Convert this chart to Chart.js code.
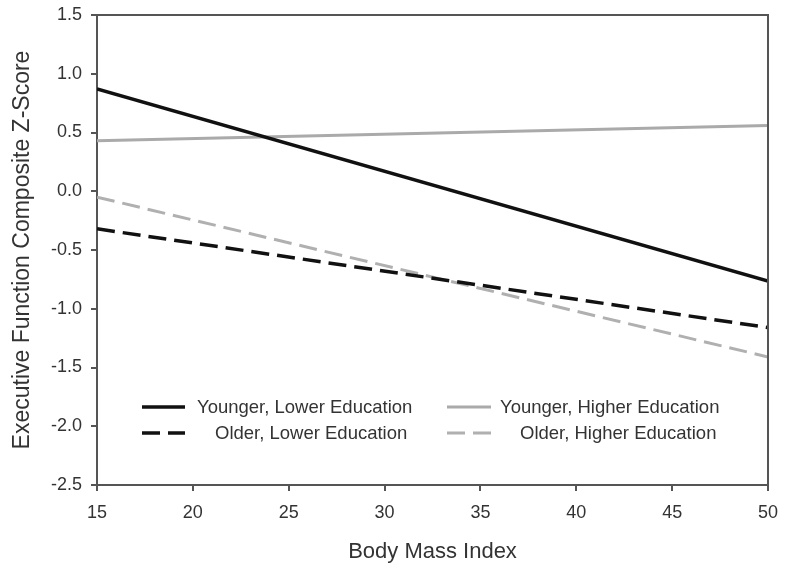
<!DOCTYPE html>
<html>
<head>
<meta charset="utf-8">
<script src="https://cdn.jsdelivr.net/npm/chart.js@4"></script>
<style>
  html, body { margin: 0; padding: 0; background: #fff; }
  #wrap { width: 785px; height: 568px; }
</style>
</head>
<body>
<div id="wrap"><canvas id="c" width="785" height="568"></canvas></div>
<script>
const bmi = [15, 50];
const youngerLower = [0.87, -0.765];
const youngerHigher = [0.43, 0.56];
const olderLower = [-0.32, -1.16];
const olderHigher = [-0.05, -1.41];
const seriesNames = ["Younger, Lower Education", "Younger, Higher Education", "Older, Lower Education", "Older, Higher Education"];
const xTitle = "Body Mass Index";
const yTitle = "Executive Function Composite Z-Score";

const FONT = "'Liberation Sans', Arial, sans-serif";
const TXT = "#333333";
const AXIS = "#555555";

function pts(vals) { return bmi.map((x, i) => ({x: x, y: vals[i]})); }

const styles = [
  {color: "#111111", dash: [], width: 3.5},
  {color: "#aaaaaa", dash: [], width: 3},
  {color: "#111111", dash: [18, 8], width: 3.5},
  {color: "#b0b0b0", dash: [18, 8], width: 3}
];
const seriesVals = [youngerLower, youngerHigher, olderLower, olderHigher];

const datasets = seriesVals.map((v, i) => ({
  label: seriesNames[i],
  data: pts(v),
  borderColor: styles[i].color,
  borderWidth: styles[i].width,
  borderDash: styles[i].dash,
  pointRadius: 0,
  fill: false,
  tension: 0
}));

const legendPlugin = {
  id: 'customLegend',
  afterDatasetsDraw(chart) {
    const ctx = chart.ctx;
    const a = chart.chartArea;
    const items = [
      {ds: 0, l0: 45, l1: 88, t: 100, row: 0},
      {ds: 1, l0: 350, l1: 394, t: 403, row: 0},
      {ds: 2, l0: 45, l1: 88, t: 118, row: 1},
      {ds: 3, l0: 350, l1: 394, t: 423, row: 1}
    ];
    const rowY = [a.top + 392, a.top + 418];
    ctx.save();
    ctx.font = "18.5px " + FONT;
    ctx.textBaseline = "middle";
    ctx.fillStyle = TXT;
    items.forEach(it => {
      const s = styles[it.ds];
      const y = rowY[it.row];
      ctx.beginPath();
      ctx.strokeStyle = s.color;
      ctx.lineWidth = s.width;
      ctx.setLineDash(s.dash);
      ctx.moveTo(a.left + it.l0, y);
      ctx.lineTo(a.left + it.l1, y);
      ctx.stroke();
      ctx.setLineDash([]);
      ctx.fillText(seriesNames[it.ds], a.left + it.t, y + 1);
    });
    ctx.restore();
  }
};

const boxPlugin = {
  id: 'box',
  afterDraw(chart) {
    const ctx = chart.ctx;
    const a = chart.chartArea;
    ctx.save();
    ctx.strokeStyle = AXIS;
    ctx.lineWidth = 2;
    ctx.beginPath();
    ctx.moveTo(a.left, a.top);
    ctx.lineTo(a.right, a.top);
    ctx.lineTo(a.right, a.bottom);
    ctx.stroke();
    ctx.restore();
  }
};

new Chart(document.getElementById('c'), {
  type: 'line',
  data: { datasets: datasets },
  options: {
    responsive: false,
    animation: false,
    devicePixelRatio: 1,
    layout: { padding: { top: 15, right: 17, left: 0, bottom: 0 } },
    plugins: { legend: { display: false }, tooltip: { enabled: false } },
    scales: {
      x: {
        type: 'linear',
        min: 15, max: 50,
        afterFit(s) { s.height = 83; s.paddingLeft = 0; s.paddingRight = 0; },
        ticks: { stepSize: 5, color: TXT, font: { family: FONT, size: 18 }, padding: 11, maxRotation: 0 },
        grid: { drawOnChartArea: false, tickLength: 6, color: AXIS, lineWidth: 2 },
        border: { color: AXIS, width: 2 },
        title: { display: true, text: xTitle, color: TXT, font: { family: FONT, size: 22 }, padding: { top: 0, bottom: 3 } }
      },
      y: {
        min: -2.5, max: 1.5,
        afterFit(s) { s.width = 97; s.paddingTop = 0; s.paddingBottom = 0; },
        ticks: { stepSize: 0.5, color: TXT, font: { family: FONT, size: 18 }, padding: 9,
                 callback: v => Number(v).toFixed(1) },
        grid: { drawOnChartArea: false, tickLength: 6, color: AXIS, lineWidth: 2 },
        border: { color: AXIS, width: 2 },
        title: { display: true, text: yTitle, color: TXT, font: { family: FONT, size: 23 }, padding: { top: 9, bottom: 0 } }
      }
    }
  },
  plugins: [legendPlugin, boxPlugin]
});
</script>
</body>
</html>
